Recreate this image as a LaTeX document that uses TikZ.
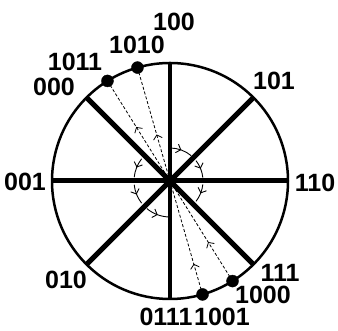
\documentclass[tikz,border=0pt]{standalone}
\usepackage{fontspec}
\setmainfont{Liberation Sans}
\usepackage{tikz}
\usetikzlibrary{positioning}
\usetikzlibrary{calc}
\usetikzlibrary{arrows.meta}
\usetikzlibrary{decorations.markings}

\begin{document}
\begin{tikzpicture}[x=1pt, y=1pt,
    font=\fontsize{25}{25}\selectfont\bfseries,
    every node/.style={inner sep=1pt},
    spoke/.style={line width=5pt},
    chord/.style={line width=0.8pt, densely dashed},
    arrowat/.style={postaction={decorate}, decoration={markings,
        mark=at position #1 with {\arrow[solid]{Straight Barb[length=4pt,width=9pt]}}}},
    turn/.style={line width=0.9pt, arrowat=0.5}]
    \useasboundingbox (0,0) rectangle (338,331);

    % Wheel
    \coordinate (O) at (170,150);
    \foreach \ang/\nm in {0/p0, 45/p45, 90/p90, 135/p135, 180/p180, 225/p225, 270/p270, 315/p315}
        \coordinate (\nm) at ($(O)+(\ang:118pt)$);
    \coordinate (d1010) at ($(O)+(106:118pt)$);
    \coordinate (d1011) at ($(O)+(122:118pt)$);
    \coordinate (d1000) at ($(O)+(-58:118pt)$);
    \coordinate (d1001) at ($(O)+(-74:118pt)$);

    \draw[line width=2.5pt] (O) circle (118pt);
    \draw[spoke] (p0) -- (p180);
    \draw[spoke] (p45) -- (p225);
    \draw[spoke] (p135) -- (p315);
    \draw[line width=3.5pt] (p90) -- (p270);

    % Chords through the centre
    \draw[chord, arrowat=0.27] (d1001) -- (O);
    \draw[chord, arrowat=0.41] (O) -- (d1010);
    \draw[chord, arrowat=0.39] (d1000) -- (O);
    \draw[chord, arrowat=0.54] (O) -- (d1011);

    \filldraw (d1010) circle (6pt);
    \filldraw (d1011) circle (6pt);
    \filldraw (d1000) circle (6pt);
    \filldraw (d1001) circle (6pt);

    % Turns round the centre
    \draw[turn] ($(O)+(90:33pt)$) arc[start angle=90, end angle=50, radius=33pt];
    \draw[turn] ($(O)+(38:33pt)$) arc[start angle=38, end angle=6, radius=33pt];
    \draw[turn] ($(O)+(-6:33pt)$) arc[start angle=-6, end angle=-38, radius=33pt];
    \draw[turn] ($(O)+(142:36pt)$) arc[start angle=142, end angle=174, radius=36pt];
    \draw[turn] ($(O)+(186:36pt)$) arc[start angle=186, end angle=218, radius=36pt];
    \draw[turn] ($(O)+(230:36pt)$) arc[start angle=230, end angle=270, radius=36pt];

    % Labels
    \node (l100) at (174,309) {100};
    \node (l1010) at (137,286) {1010};
    \node (l1011) at (75,269) {1011};
    \node (l000) at (54,244) {000};
    \node (l101) at (274,250) {101};
    \node (l001) at (25,149) {001};
    \node (l110) at (315,148) {110};
    \node (l010) at (66,51) {010};
    \node (l111) at (280,58) {111};
    \node (l1000) at (263,36) {1000};
    \node (l0111) at (166,14) {0111};
    \node (l1001) at (222,14) {1001};
\end{tikzpicture}
\end{document}
